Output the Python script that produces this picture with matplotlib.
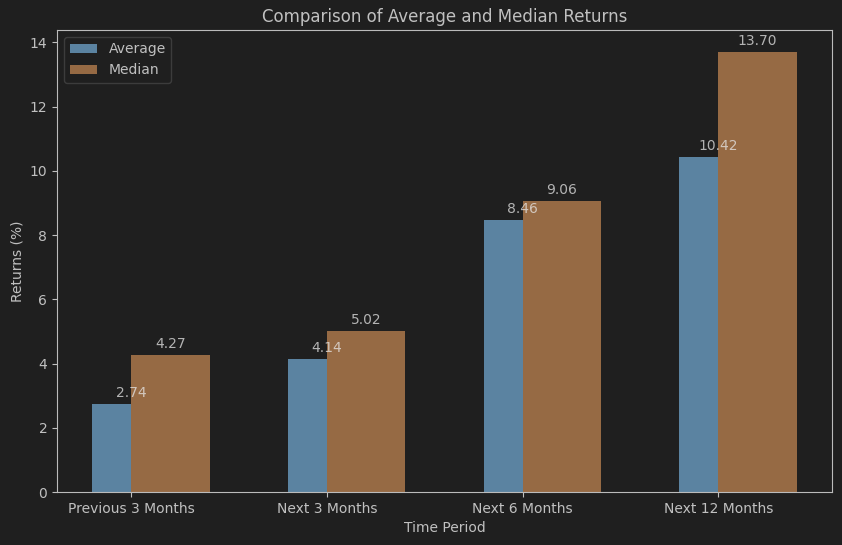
import numpy as np
import matplotlib
matplotlib.use("Agg")
import matplotlib.pyplot as plt

periods = ["Previous 3 Months", "Next 3 Months", "Next 6 Months", "Next 12 Months"]
average = [2.74, 4.14, 8.46, 10.42]
median = [4.27, 5.02, 9.06, 13.70]

bg = "#1f1f1f"
fg = "#c0c0c0"

fig = plt.figure(figsize=(8.42, 5.45), dpi=100, facecolor=bg)
ax = fig.add_axes([0.0677, 0.0972, 0.9203, 0.8478], facecolor=bg)

x = np.arange(len(periods))
width = 0.4
avg_bars = ax.bar(x, average, width, color="#5b83a1", label="Average")
med_bars = ax.bar(x + 0.2, median, width, color="#966a44", label="Median")

for bar, val in zip(avg_bars, average):
    ax.annotate(f"{val:.2f}", (bar.get_x() + bar.get_width() / 2, val),
                xytext=(0, 3), textcoords="offset points", ha="center",
                va="bottom", color="#e6e6e6", alpha=0.75, fontsize=10)
for bar, val in zip(med_bars, median):
    ax.annotate(f"{val:.2f}", (bar.get_x() + bar.get_width() / 2, val),
                xytext=(0, 3), textcoords="offset points", ha="center",
                va="bottom", color="#e6e6e6", alpha=0.75, fontsize=10)

ax.set_xticks(x)
ax.set_xticklabels(periods)
ax.set_xlabel("Time Period", color=fg, fontsize=10)
ax.set_ylabel("Returns (%)", color=fg, fontsize=10)
ax.set_title("Comparison of Average and Median Returns", color=fg, fontsize=12)
ax.tick_params(colors=fg, labelsize=10)
for s in ax.spines.values():
    s.set_color("#bbbbbb")

leg = ax.legend(loc="upper left", facecolor=bg, edgecolor="#444444", fontsize=10)
for t in leg.get_texts():
    t.set_color(fg)

fig.savefig("out.png", dpi=100, facecolor=bg)
